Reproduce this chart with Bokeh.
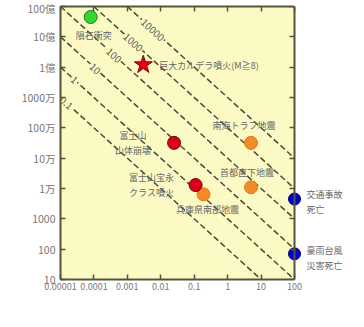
import math
from bokeh.plotting import figure, ColumnDataSource
from bokeh.models import Range1d, LogAxis, FixedTicker, Label, CustomJSTickFormatter
from bokeh.core.properties import value
from bokeh.embed import file_html
from bokeh.resources import INLINE

# ---------------- data ----------------
x_ticks = [1e-5, 1e-4, 1e-3, 1e-2, 1e-1, 1.0, 10.0, 100.0]
x_tick_labels = ["0.00001", "0.0001", "0.001", "0.01", "0.1", "1", "10", "100"]
y_ticks = [1e1, 1e2, 1e3, 1e4, 1e5, 1e6, 1e7, 1e8, 1e9, 1e10]
y_tick_labels = ["10", "100", "1000", "1万", "10万", "100万", "1000万", "1億", "10億", "100億"]

risk_levels = [0.1, 1, 10, 100, 1000, 10000]
risk_labels = ["0.1", "1", "10", "100", "1000", "10000"]
risk_label_prob = [1.5e-5, 2.6e-5, 1.1e-4, 4.0e-4, 1.5e-3, 5.8e-3]
RISK_SCALE = 1000.0   # deaths * prob(%) = RISK_SCALE * level

event_names = ["隕石衝突", "巨大カルデラ噴火(M≧8)", "富士山\n山体崩壊", "富士山宝永\nクラス噴火",
               "南海トラフ地震", "首都直下地震", "兵庫県南部地震", "交通事故\n死亡", "豪雨台風\n災害死亡"]
event_prob = [8e-5, 3e-3, 2.5e-2, 0.11, 5.0, 5.0, 0.19, 100.0, 100.0]
event_deaths = [4.5e9, 1.2e8, 3.2e5, 1.3e4, 3.2e5, 1.1e4, 6434, 4500, 70]
event_kind = ["meteor", "caldera", "volcano", "volcano", "quake", "quake", "quake", "daily", "daily"]

# ---------------- style ----------------
OLIVE = "#55553a"
YELLOW = "#fcfac4"
JP = "Noto Sans CJK JP"
kind_style = {
    "quake":   dict(marker="circle", size=13, fill="#f28c2a", line="#e07818"),
    "volcano": dict(marker="circle", size=13, fill="#d8001c", line="#7a0000"),
    "meteor":  dict(marker="circle", size=13, fill="#33d633", line="#1a7a1a"),
    "caldera": dict(marker="star",   size=19, fill="#e60012", line="#8b0000"),
    "daily":   dict(marker="circle", size=12, fill="#0000d0", line="#00006a"),
}
# label placement: (align, x offset px, y offset px downward)
label_layout = {
    "隕石衝突": ("left", -15, 18),
    "巨大カルデラ噴火(M≧8)": ("left", 16, 1),
    "富士山\n山体崩壊": ("center", -41, 0),
    "富士山宝永\nクラス噴火": ("center", -44, 0),
    "南海トラフ地震": ("center", -7, -17),
    "首都直下地震": ("center", -4, -15),
    "兵庫県南部地震": ("center", 4, 15),
    "交通事故\n死亡": ("left", 12, 3),
    "豪雨台風\n災害死亡": ("left", 12, 4),
}

FIG_W, FIG_H = 348, 311
BORDER_L, BORDER_T, BORDER_B = 60, 6, 32
FRAME_W, FRAME_H = FIG_W - BORDER_L, FIG_H - BORDER_T - BORDER_B
X0_EXP, X100_EXP = -5, 2
X_DEC_PX = 234 / (X100_EXP - X0_EXP)
X_END_EXP = X0_EXP + FRAME_W / X_DEC_PX
Y_DEC_PX = FRAME_H / 9

p = figure(width=FIG_W, height=FIG_H, x_axis_type="log", y_axis_type="log",
           x_range=Range1d(10 ** X0_EXP, 10 ** X_END_EXP), y_range=Range1d(y_ticks[0], y_ticks[-1]),
           min_border_left=BORDER_L, min_border_right=0, min_border_top=BORDER_T,
           min_border_bottom=BORDER_B,
           output_backend="svg", toolbar_location=None,
           background_fill_color="white", border_fill_color="white")
p.outline_line_color = None
p.grid.visible = False

# yellow plotting area
p.quad(left=x_ticks[0], right=x_ticks[-1], bottom=y_ticks[0], top=y_ticks[-1],
       fill_color=YELLOW, line_color=None, level="underlay")

def fmt(labels, start):
    return CustomJSTickFormatter(args=dict(labels=labels, start=start),
        code="const i = Math.round(Math.log10(tick)) - start; return (i >= 0 && i < labels.length) ? labels[i] : '';")

def style_axis(ax):
    ax.major_tick_in = 5
    ax.major_tick_out = 0
    ax.minor_tick_line_color = None
    ax.major_tick_line_color = OLIVE
    ax.major_tick_line_width = 1.5
    ax.axis_line_color = OLIVE
    ax.axis_line_width = 2

xa = p.xaxis[0]
xa.ticker = FixedTicker(ticks=x_ticks)
xa.formatter = fmt(x_tick_labels, X0_EXP)
xa.bounds = (x_ticks[0], x_ticks[-1])
style_axis(xa)
xa.major_label_text_font_size = "9px"
xa.major_label_text_color = "#777777"
xa.major_label_text_font = JP
xa.major_label_standoff = 3

ya = p.yaxis[0]
ya.ticker = FixedTicker(ticks=y_ticks)
ya.formatter = fmt(y_tick_labels, 1)
style_axis(ya)
ya.major_label_text_font_size = "10.5px"
ya.major_label_text_color = "#777777"
ya.major_label_text_font = JP
ya.major_label_standoff = 5

top = LogAxis(ticker=FixedTicker(ticks=x_ticks), formatter=fmt([""] * 8, X0_EXP),
              bounds=(x_ticks[0], x_ticks[-1]), major_label_standoff=0)
style_axis(top)
p.add_layout(top, "above")

right = LogAxis(ticker=FixedTicker(ticks=y_ticks), formatter=fmt([""] * 10, 1),
                fixed_location=x_ticks[-1], major_label_standoff=0)
style_axis(right)
p.add_layout(right, "right")

# iso-risk dashed lines
xs = [[x_ticks[0], x_ticks[-1]] for _ in risk_levels]
ys = [[RISK_SCALE * k / x_ticks[0], RISK_SCALE * k / x_ticks[-1]] for k in risk_levels]
p.multi_line(xs=xs, ys=ys, line_color="#4a4a3a", line_width=1.5, line_dash="6 3")

angle = -math.atan(Y_DEC_PX / X_DEC_PX)
rsrc = ColumnDataSource(dict(x=risk_label_prob,
                             y=[RISK_SCALE * k / pr for k, pr in zip(risk_levels, risk_label_prob)],
                             t=risk_labels))
p.text(x="x", y="y", text="t", source=rsrc, angle=angle, text_align="center", text_baseline="middle",
       text_font=value(JP), text_font_size="10px", text_color="#555555",
       background_fill_color=YELLOW, padding=1)

# events
order = ["quake", "volcano", "meteor", "caldera", "daily"]
for kind in order:
    idx = [i for i, k in enumerate(event_kind) if k == kind]
    st = kind_style[kind]
    src = ColumnDataSource(dict(x=[event_prob[i] for i in idx], y=[event_deaths[i] for i in idx]))
    p.scatter(x="x", y="y", source=src, marker=st["marker"], size=st["size"],
              fill_color=st["fill"], line_color=st["line"], line_width=1)

for align in ["left", "center"]:
    idx = [i for i, n in enumerate(event_names) if label_layout[n][0] == align]
    src = ColumnDataSource(dict(x=[event_prob[i] for i in idx], y=[event_deaths[i] for i in idx],
                                t=[event_names[i] for i in idx],
                                dx=[label_layout[event_names[i]][1] for i in idx],
                                dy=[label_layout[event_names[i]][2] for i in idx]))
    p.text(x="x", y="y", text="t", source=src, x_offset="dx", y_offset="dy",
           text_align=align, text_baseline="middle", text_font=value(JP),
           text_font_size="9px", text_color="#666666", text_line_height=1.15)

# axis titles (positions given in figure pixels)
def fig_to_data(fx, fy):
    return (10 ** (X0_EXP + (fx - BORDER_L) / X_DEC_PX), 10 ** (10 - (fy - BORDER_T) / Y_DEC_PX))

tx, ty = fig_to_data(9, 42)
p.add_layout(Label(x=tx, y=ty, text="死者数（人）", angle=-math.pi / 2, text_align="center",
                   text_baseline="middle", text_font=JP, text_font_size="12px",
                   text_font_style="bold", text_color="#333333"))
tx, ty = fig_to_data(179, 302)
p.add_layout(Label(x=tx, y=ty, text="年間発生確率（%）", text_align="center",
                   text_baseline="middle", text_font=JP, text_font_size="12px",
                   text_font_style="bold", text_color="#333333"))

open("out.html", "w").write(file_html(p, INLINE))
